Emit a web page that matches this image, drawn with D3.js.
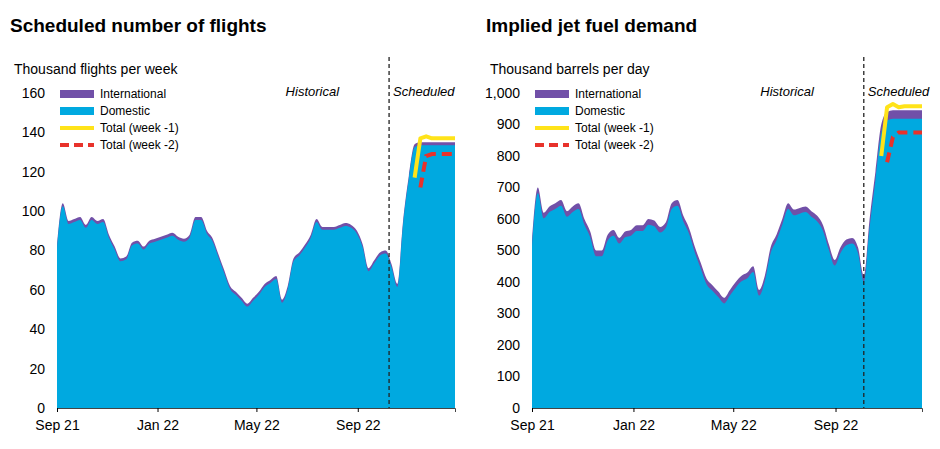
<!DOCTYPE html>
<html><head><meta charset="utf-8">
<script src="https://cdn.jsdelivr.net/npm/d3@7"></script>
<style>body{margin:0;background:#fff;font-family:Arial,"Liberation Sans",sans-serif}</style>
</head><body><svg id="c" width="940" height="449"></svg>
<script>
// weekly data starting 1 Sep 2021
const flightsTotal = [82,104,95,96,97,93,97,95,96,88,82,76,77,84,85,82,85,86,87,88,89,87,86,88,97,97,90,86,78,70,62,59,56,53,56,59,63,65,67,55,62,76,79,83,88,96,92,92,92,93,94,93,90,83,71,75,79,80,73,63,95,118,134,135,135,135,135,135,135,135];
const flightsIntl = 1.5;
const flightsWk1 = [[62,117],[63,137],[64,138],[65,137],[66,137],[67,137],[68,137],[69,137]];
const flightsWk2 = [[63,112],[64,128],[65,129],[66,129],[67,129],[68,129],[69,129]];

const fuelTotal = [530,700,620,640,650,660,625,640,650,600,560,500,500,550,565,540,560,565,580,580,600,595,575,590,650,660,610,570,510,460,410,390,370,350,375,400,420,430,450,375,420,510,550,600,650,630,635,640,625,610,580,520,470,510,535,540,510,420,600,750,900,940,945,945,945,945,945,945];
const fuelIntlHist = 18, fuelIntlSched = 27;
const fuelWk1 = [[60,800],[61,955],[62,965],[63,955],[64,958],[65,958],[66,958],[67,958]];
const fuelWk2 = [[61,780],[62,860],[63,875],[64,875],[65,875],[66,875],[67,875]];

const xTicks = ["2021-09-01","2022-01-01","2022-05-01","2022-09-01"];
const start = new Date(2021,8,1);
const wk = i => d3.timeDay.offset(start, 7*i);
const C = {blue:"#00a9e0", purple:"#7150a8", yellow:"#ffe319", red:"#e8322b"};
const svg = d3.select("#c");

function panel(o){
  const g = svg.append("g");
  const n = o.total.length;
  const x = d3.scaleTime().domain([start, wk(n-1)]).range([o.x0, o.x1]);
  const y = d3.scaleLinear().domain([0, o.ymax]).range([408, 93]);
  g.append("text").attr("x", o.tx).attr("y", 32).attr("font-size", 19).attr("font-weight", "bold").text(o.title);
  g.append("text").attr("x", o.tx+4).attr("y", 74).attr("font-size", 14).text(o.sub);
  const ax = g.append("g").attr("transform", "translate(0,408)")
    .call(d3.axisBottom(x).tickValues(xTicks.map(d => d3.isoParse(d))).tickSize(4).tickFormat(d3.timeFormat("%b %y")));
  ax.select(".domain").attr("stroke", "#444");
  ax.selectAll("text").attr("font-size", 14).attr("fill", "#000").attr("dy", "1.1em");
  const ay = g.append("g").attr("transform", `translate(${o.x0},0)`)
    .call(d3.axisLeft(y).tickValues(d3.range(0, o.ymax+1, o.step)).tickSize(0).tickPadding(12).tickFormat(d3.format(",")));
  ay.select(".domain").remove();
  ay.selectAll("text").attr("font-size", 14).attr("fill", "#000");
  const dom = o.total.map((v,i) => v - o.intl(i));
  g.append("path").datum(o.total).attr("fill", C.purple)
    .attr("d", d3.area().x((d,i) => x(wk(i))).y0(408).y1(d => y(d)).curve(d3.curveMonotoneX));
  g.append("path").datum(dom).attr("fill", C.blue)
    .attr("d", d3.area().x((d,i) => x(wk(i))).y0(408).y1(d => y(d)).curve(d3.curveMonotoneX));
  const ln = d3.line().x(d => x(wk(d[0]))).y(d => y(d[1]));
  g.append("path").datum(o.wk2).attr("fill", "none").attr("stroke", C.red).attr("stroke-width", 4).attr("stroke-dasharray", "10,6").attr("d", ln);
  g.append("path").datum(o.wk1).attr("fill", "none").attr("stroke", C.yellow).attr("stroke-width", 4).attr("stroke-linejoin", "round").attr("d", ln);
  const xs = x(d3.isoParse(o.split));
  g.append("line").attr("x1", xs).attr("x2", xs).attr("y1", 57).attr("y2", 408).attr("stroke", "#222").attr("stroke-width", 1.3).attr("stroke-dasharray", "4,3");
  g.append("text").attr("x", xs-50).attr("y", 96).attr("font-size", 13).attr("font-style", "italic").attr("text-anchor", "end").text("Historical");
  g.append("text").attr("x", xs+4).attr("y", 96).attr("font-size", 13).attr("font-style", "italic").text("Scheduled");
  const lx = o.x0 + 3;
  const items = [["International", "rect", C.purple], ["Domestic", "rect", C.blue], ["Total (week -1)", "line", C.yellow], ["Total (week -2)", "dash", C.red]];
  items.forEach((it, k) => {
    const yy = 94 + k*17;
    if (it[1] === "rect") g.append("rect").attr("x", lx).attr("y", yy-4).attr("width", 34).attr("height", 8).attr("fill", it[2]);
    else g.append("line").attr("x1", lx).attr("x2", lx+34).attr("y1", yy).attr("y2", yy).attr("stroke", it[2]).attr("stroke-width", 4)
      .attr("stroke-dasharray", it[1] === "dash" ? "9,5" : null);
    g.append("text").attr("x", lx+40).attr("y", yy+4).attr("font-size", 12).text(it[0]);
  });
}

panel({title:"Scheduled number of flights", sub:"Thousand flights per week", tx:10, x0:57, x1:455, ymax:160, step:20,
  total:flightsTotal, intl:() => flightsIntl, wk1:flightsWk1, wk2:flightsWk2, split:"2022-10-09"});
panel({title:"Implied jet fuel demand", sub:"Thousand barrels per day", tx:486, x0:532, x1:922, ymax:1000, step:100,
  total:fuelTotal, intl:i => i >= 58 ? fuelIntlSched : fuelIntlHist, wk1:fuelWk1, wk2:fuelWk2, split:"2022-10-05"});
</script></body></html>
